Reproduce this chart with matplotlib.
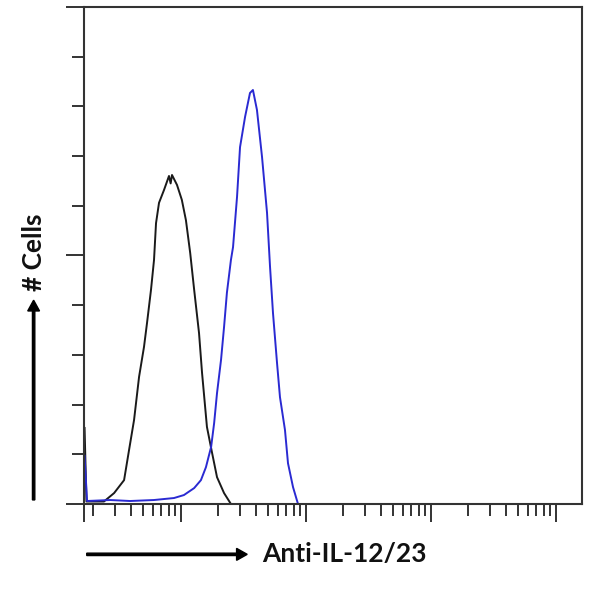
import matplotlib.pyplot as plt
from matplotlib.patches import FancyArrow
from matplotlib.ticker import FixedLocator, LogLocator, NullFormatter

# isotype control (black) - fluorescence intensity vs count
ctrl_x = [1.70, 1.76, 2.43, 2.93, 3.52, 3.86, 4.23, 4.64, 5.08, 5.37, 5.78, 6.11, 6.34,
          6.70, 7.35, 8.05, 8.30, 8.51, 9.33, 10.2, 11.0, 11.9, 12.8, 14.0, 14.8,
          16.2, 17.8, 19.5, 22.2, 25.2]
ctrl_y = [1.53, 0.05, 0.05, 0.22, 0.48, 1.09, 1.69, 2.56, 3.16, 3.64, 4.31, 4.91, 5.65,
          6.06, 6.32, 6.60, 6.45, 6.62, 6.42, 6.12, 5.71, 5.05, 4.31, 3.44, 2.64,
          1.55, 1.03, 0.54, 0.22, 0.0]

# anti-IL-12/23 stained (blue)
stain_x = [1.70, 1.78, 2.72, 3.93, 6.11, 8.83, 10.6, 12.8, 14.5, 15.9, 17.5, 18.5,
           19.5, 21.0, 22.2, 23.4, 25.2, 26.2, 28.2, 29.8, 32.7, 35.8, 37.8, 40.7,
           44.7, 49.0, 51.8, 54.7, 58.9, 62.2, 68.2, 72.1, 79.1, 86.7]
stain_y = [0.97, 0.06, 0.08, 0.06, 0.08, 0.12, 0.18, 0.32, 0.48, 0.74, 1.15, 1.63,
           2.23, 2.90, 3.56, 4.25, 4.91, 5.17, 6.18, 7.18, 7.79, 8.27, 8.33, 7.93,
           6.98, 5.86, 4.77, 3.84, 2.84, 2.15, 1.49, 0.82, 0.34, 0.0]

x_min, x_max = 10 ** 0.226, 10 ** 4.21

fig = plt.figure(figsize=(5.9, 5.98), dpi=100, facecolor='white')
ax = fig.add_axes([0.1424, 0.1572, 0.8440, 0.8311])

ax.plot(ctrl_x, ctrl_y, color='#1a1a1a', lw=1.4)
ax.plot(stain_x, stain_y, color='#2a2ad2', lw=1.4)

ax.set_xscale('log')
ax.set_xlim(x_min, x_max)
ax.set_ylim(0, 10)

# ticks
ax.xaxis.set_major_locator(FixedLocator([x_min, 10, 100, 1000, 10000]))
ax.xaxis.set_minor_locator(LogLocator(base=10, subs=range(2, 10), numticks=20))
ax.xaxis.set_major_formatter(NullFormatter())
ax.xaxis.set_minor_formatter(NullFormatter())
ax.yaxis.set_major_locator(FixedLocator([0, 5, 10]))
ax.yaxis.set_minor_locator(FixedLocator([1, 2, 3, 4, 6, 7, 8, 9]))
ax.yaxis.set_major_formatter(NullFormatter())
ax.tick_params(which='major', direction='out', length=13, width=1.4, color='#333333')
ax.tick_params(which='minor', direction='out', length=8.5, width=1.4, color='#333333')
ax.tick_params(axis='x', which='both', top=False)
ax.tick_params(axis='y', which='both', right=False)

for s in ax.spines.values():
    s.set_linewidth(1.5)
    s.set_color('#333333')

font = ['Lato', 'DejaVu Sans']

# x label with arrow
fig.patches.append(FancyArrow(
    0.147, 0.073, 0.272, 0, width=0.004, head_width=0.02, head_length=0.018,
    length_includes_head=True, color='black', transform=fig.transFigure, figure=fig))
fig.text(0.444, 0.073, 'Anti-IL-12/23', fontsize=19, fontweight='bold',
         family=font, ha='left', va='center', color='#111111')

# y label with arrow
fig.patches.append(FancyArrow(
    0.057, 0.164, 0, 0.334, width=0.004, head_width=0.02, head_length=0.018,
    length_includes_head=True, color='black', transform=fig.transFigure, figure=fig))
fig.text(0.057, 0.579, '# Cells', fontsize=19, fontweight='bold', family=font,
         rotation=90, ha='center', va='center', color='#111111')

plt.savefig('out.png', dpi=100, facecolor='white')
